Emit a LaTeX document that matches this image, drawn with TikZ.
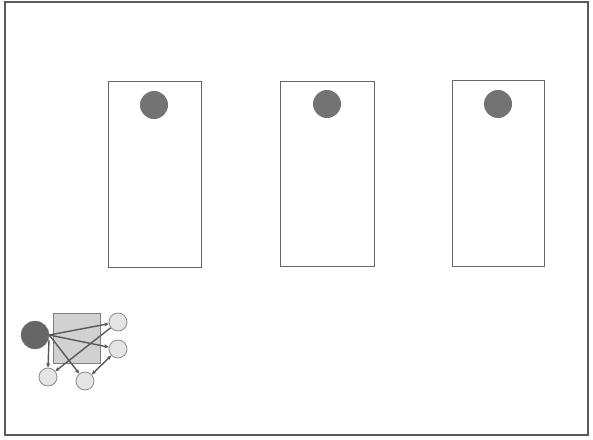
\documentclass[tikz,border=0pt]{standalone}
\usetikzlibrary{arrows.meta}
\begin{document}
\begin{tikzpicture}[x=1pt,y=-1pt,
  frame/.style={draw=black!65,line width=1.6pt},
  panel/.style={draw=black!60,line width=0.8pt,fill=white},
  dot/.style={circle,fill=black!55,draw=none,minimum size=28pt,inner sep=0pt},
  bigdot/.style={circle,fill=black!60,draw=black!50,minimum size=28pt,inner sep=0pt},
  small/.style={circle,fill=black!10,draw=black!45,line width=0.8pt,minimum size=18pt,inner sep=0pt},
  sq/.style={draw=black!50,fill=black!18,line width=0.8pt},
  conn/.style={draw=black!65,line width=1.4pt,-{Stealth[length=4.5pt,width=4pt]}}]
\useasboundingbox (0,0) rectangle (593,439);
\draw[frame] (5,2) rectangle (588,435);
\node[panel,minimum width=93pt,minimum height=186pt,inner sep=0pt] (p1) at (154.5,174) {};
\node[panel,minimum width=94pt,minimum height=185pt,inner sep=0pt] (p2) at (327,173.5) {};
\node[panel,minimum width=92pt,minimum height=186pt,inner sep=0pt] (p3) at (498,173) {};
\node[dot] (d1) at (154,105) {};
\node[dot] (d2) at (327,104) {};
\node[dot] (d3) at (498,104) {};
\node[sq,minimum width=47pt,minimum height=50pt,inner sep=0pt] (sq) at (76.5,338) {};
\node[bigdot] (big) at (35,335) {};
\node[small] (tr) at (118,322) {};
\node[small] (r) at (118,349) {};
\node[small] (bl) at (48,377) {};
\node[small] (b) at (85,381) {};
\coordinate (bs) at (49,340);
\draw[conn] (big.east) -- (tr);
\draw[conn] (big.east) -- (r);
\draw[conn] (bs) -- (bl.north);
\draw[conn] (big.east) -- (b);
\draw[conn] (tr) -- (bl);
\draw[conn,{Stealth[length=4.5pt,width=4pt]}-{Stealth[length=4.5pt,width=4pt]}] (b) -- (r);
\end{tikzpicture}
\end{document}
